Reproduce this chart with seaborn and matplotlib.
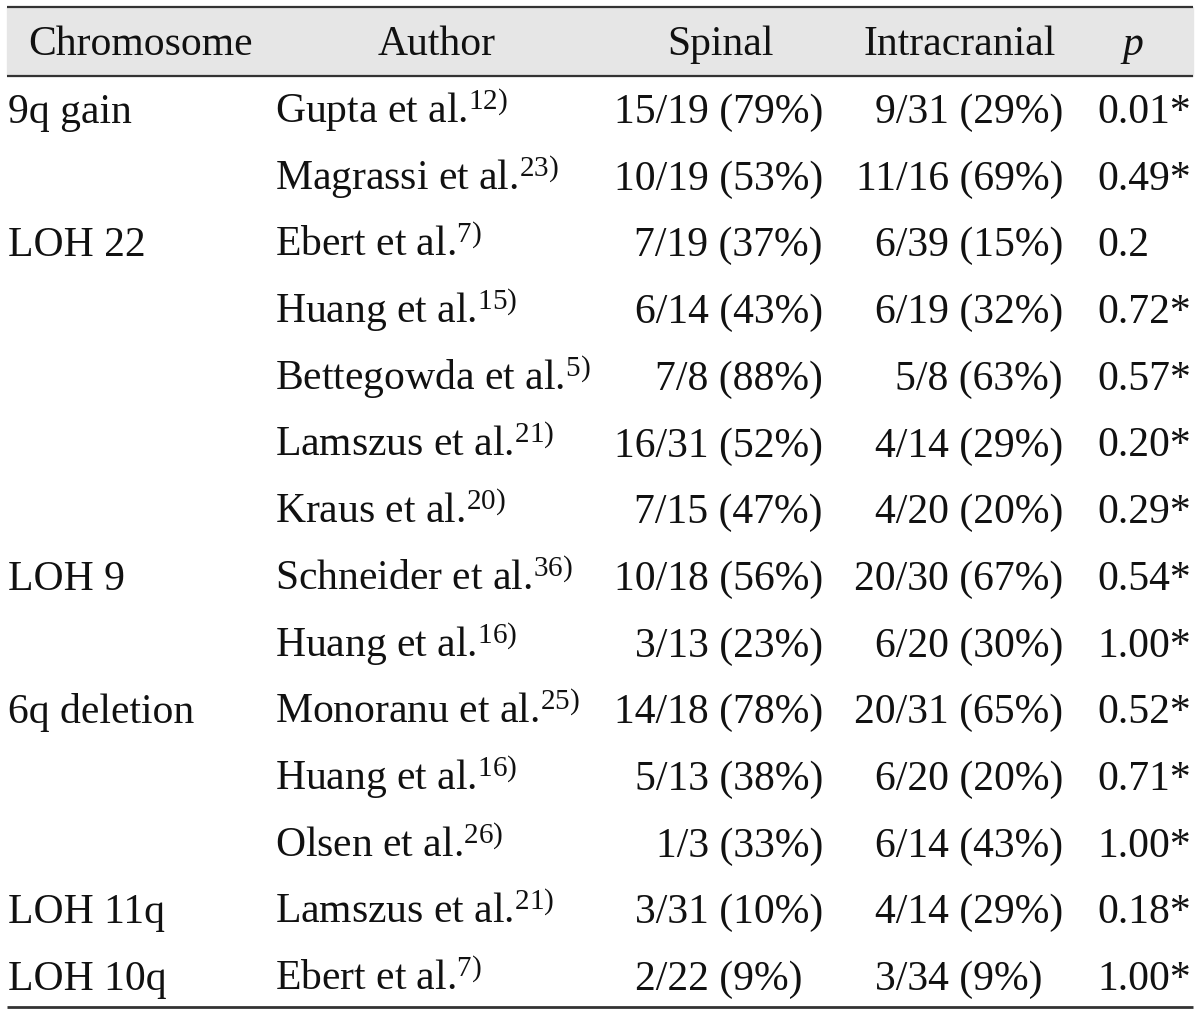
import matplotlib
matplotlib.use("Agg")
import matplotlib.pyplot as plt
import seaborn as sns

# === Table data ===
headers = ["Chromosome", "Author", "Spinal", "Intracranial", "p"]
chromosome = ["9q gain", "", "LOH 22", "", "", "", "", "LOH 9", "", "6q deletion", "", "", "LOH 11q", "LOH 10q"]
authors = ["Gupta et al.", "Magrassi et al.", "Ebert et al.", "Huang et al.", "Bettegowda et al.",
           "Lamszus et al.", "Kraus et al.", "Schneider et al.", "Huang et al.", "Monoranu et al.",
           "Huang et al.", "Olsen et al.", "Lamszus et al.", "Ebert et al."]
refs = ["12)", "23)", "7)", "15)", "5)", "21)", "20)", "36)", "16)", "25)", "16)", "26)", "21)", "7)"]
spinal = ["15/19 (79%)", "10/19 (53%)", "7/19 (37%)", "6/14 (43%)", "7/8 (88%)", "16/31 (52%)",
          "7/15 (47%)", "10/18 (56%)", "3/13 (23%)", "14/18 (78%)", "5/13 (38%)", "1/3 (33%)",
          "3/31 (10%)", "2/22 (9%)\u2007"]
intracranial = ["9/31 (29%)", "11/16 (69%)", "6/39 (15%)", "6/19 (32%)", "5/8 (63%)", "4/14 (29%)",
                "4/20 (20%)", "20/30 (67%)", "6/20 (30%)", "20/31 (65%)", "6/20 (20%)", "6/14 (43%)",
                "4/14 (29%)", "3/34 (9%)\u2007"]
p_values = ["0.01*", "0.49*", "0.2", "0.72*", "0.57*", "0.20*", "0.29*", "0.54*", "1.00*", "0.52*",
            "0.71*", "1.00*", "0.18*", "1.00*"]

# === Style ===
sns.set_theme(style="white")
plt.rcParams["font.family"] = ["Liberation Serif", "DejaVu Serif"]
plt.rcParams["mathtext.fontset"] = "custom"
plt.rcParams["mathtext.rm"] = "Liberation Serif"
plt.rcParams["mathtext.it"] = "Liberation Serif:italic"

W, H = 1200, 1016
fig = plt.figure(figsize=(W / 100, H / 100), dpi=100)
ax = fig.add_axes([0, 0, 1, 1])
ax.set_xlim(0, W)
ax.set_ylim(H, 0)
ax.axis("off")

fs = 30
line_color = "#333333"

# header band and rules
ax.axhspan(7, 76, xmin=7 / W, xmax=1193 / W, color="#e6e6e6", zorder=0)
ax.hlines([7, 76], 7, 1193, color=line_color, lw=1.6)
ax.hlines(1007, 7, 1193, color=line_color, lw=2.0)

# header text
header_x = [141, 437, 720, 960, 1133]
for x, h in zip(header_x, headers):
    ax.text(x, 55, h, fontsize=fs, ha="center", va="baseline",
            style="italic" if h == "p" else "normal", color="#111111")

# body rows
y0, pitch = 123, 66.7
for i in range(len(authors)):
    y = y0 + i * pitch
    ax.text(8, y, chromosome[i], fontsize=fs, ha="left", va="baseline", color="#111111")
    ax.text(275, y, authors[i] + r"$^{\mathrm{" + refs[i] + "}}$", fontsize=fs,
            ha="left", va="baseline", color="#111111")
    ax.text(823, y, spinal[i], fontsize=fs, ha="right", va="baseline", color="#111111")
    ax.text(1063, y, intracranial[i], fontsize=fs, ha="right", va="baseline", color="#111111")
    ax.text(1097, y, p_values[i], fontsize=fs, ha="left", va="baseline", color="#111111")

plt.savefig("out.png", dpi=100)
